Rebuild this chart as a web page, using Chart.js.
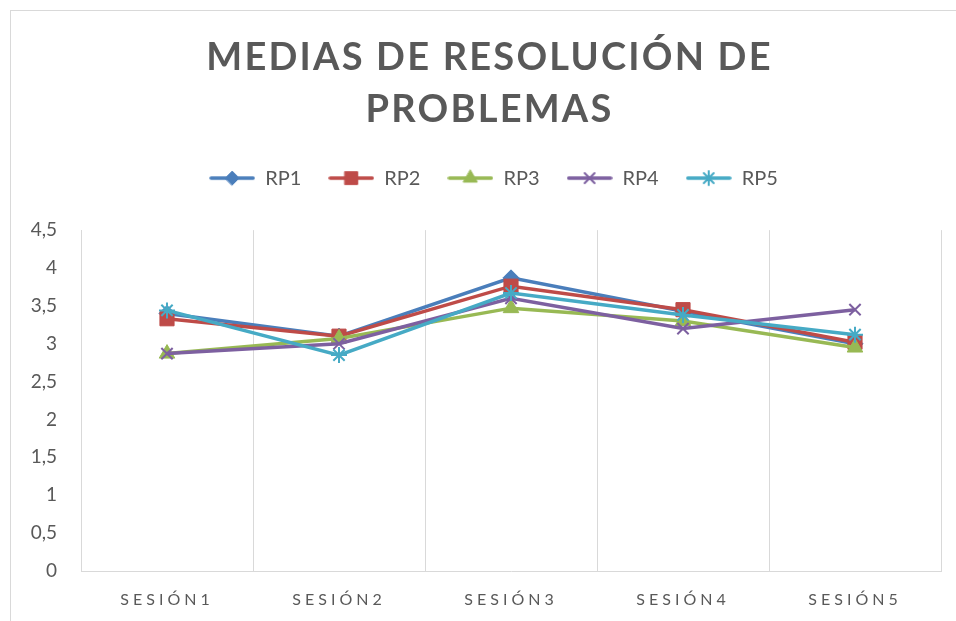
<!DOCTYPE html>
<html><head><meta charset="utf-8">
<script src="https://cdn.jsdelivr.net/npm/chart.js@4"></script>
<style>
html,body{margin:0;padding:0;background:#fff;overflow:hidden;}
#frame{position:absolute;left:10px;top:10px;width:1000px;height:700px;border:1px solid #d9d9d9;}
#wrap{position:absolute;left:0;top:0;width:956px;height:621px;}
</style></head><body>
<div id="frame"></div>
<div id="wrap"><canvas id="c" width="956" height="621"></canvas></div>
<script>
const categories = ['SESIÓN1','SESIÓN2','SESIÓN3','SESIÓN4','SESIÓN5'];
const seriesNames = ['RP1','RP2','RP3','RP4','RP5'];
const rp1 = [3.40, 3.10, 3.87, 3.43, 3.00];
const rp2 = [3.33, 3.10, 3.76, 3.45, 3.02];
const rp3 = [2.87, 3.07, 3.47, 3.30, 2.95];
const rp4 = [2.87, 3.00, 3.60, 3.20, 3.45];
const rp5 = [3.44, 2.85, 3.67, 3.38, 3.12];
const yMin = 0, yMax = 4.5, yStep = 0.5;
const titleLines = ['MEDIAS DE RESOLUCIÓN DE', 'PROBLEMAS'];

const colors = ['#4A7EBB', '#BE4B48', '#98B954', '#7D60A0', '#46AAC5'];
const styles = ['rectRot', 'rect', 'triangle', 'crossRot', 'star'];
const radii = [8, 10, 9, 8, 8];
const markerBorder = [1, 1, 1, 2, 2];
const values = [rp1, rp2, rp3, rp4, rp5];
const textColor = '#595959';

function legendImage(i) {
  const cv = document.createElement('canvas');
  cv.width = 46; cv.height = 20;
  const ctx = cv.getContext('2d');
  ctx.strokeStyle = colors[i];
  ctx.lineWidth = 3.5;
  ctx.lineCap = 'round';
  ctx.beginPath(); ctx.moveTo(2, 10); ctx.lineTo(44, 10); ctx.stroke();
  ctx.fillStyle = colors[i];
  ctx.lineWidth = markerBorder[i];
  Chart.helpers.drawPoint(ctx, {pointStyle: styles[i], radius: radii[i] - 1, borderWidth: markerBorder[i], rotation: 0}, 23, 10);
  return cv;
}

const datasets = seriesNames.map((n, i) => ({
  label: n,
  data: values[i],
  borderColor: colors[i],
  backgroundColor: colors[i],
  borderWidth: 3.5,
  pointStyle: styles[i],
  pointRadius: radii[i],
  pointHoverRadius: radii[i],
  pointBorderWidth: markerBorder[i],
  pointBackgroundColor: colors[i],
  pointBorderColor: colors[i],
  tension: 0,
  order: seriesNames.length - i
}));

const spacingPlugin = {
  id: 'spacing',
  afterInit(chart) {
    const lg = chart.legend;
    if (lg && !lg._wfit) {
      const of = lg.fit.bind(lg);
      lg.fit = function () { of(); this.height += 32; };
      lg._wfit = true;
    }
  },
  afterLayout(chart) {
    const wrap = (obj, fn, sp, dx) => {
      if (!obj || obj['_w' + fn]) return;
      const orig = obj[fn].bind(obj);
      obj[fn] = function (...a) {
        const ctx = chart.ctx; ctx.save(); ctx.letterSpacing = sp; ctx.translate(dx, 0); orig(...a); ctx.restore();
      };
      obj['_w' + fn] = true;
    };
    wrap(chart.titleBlock, 'draw', '2.2px', 19);
    wrap(chart.legend, 'draw', '0px', 23);
    wrap(chart.scales.x, 'drawLabels', '4px', 0);
  }
};

new Chart(document.getElementById('c'), {
  type: 'line',
  data: { labels: categories, datasets },
  plugins: [spacingPlugin],
  options: {
    responsive: false,
    animation: false,
    layout: { padding: { left: 0, right: 15, top: 0, bottom: 0 } },
    plugins: {
      tooltip: { enabled: false },
      title: {
        display: true,
        text: titleLines,
        color: textColor,
        font: { family: 'Lato', weight: 'bold', size: 38, lineHeight: 1.37 },
        padding: { top: 32, bottom: 5 }
      },
      legend: {
        display: true,
        position: 'top',
        labels: {
          color: textColor,
          font: { family: 'Lato', size: 20 },
          usePointStyle: true,
          pointStyleWidth: 46,
          padding: 27,
          generateLabels(chart) {
            return chart.data.datasets.map((d, i) => ({
              text: d.label,
              fillStyle: colors[i],
              strokeStyle: colors[i],
              fontColor: textColor,
              lineWidth: 0,
              pointStyle: legendImage(i),
              hidden: false,
              datasetIndex: i
            }));
          }
        }
      }
    },
    scales: {
      x: {
        offset: true,
        grid: { display: true, offset: true, color: '#d9d9d9', lineWidth: 1, drawTicks: false },
        border: { display: true, color: '#d9d9d9', width: 1 },
        ticks: { color: textColor, font: { family: 'Lato', size: 16 }, padding: 19, maxRotation: 0 },
        afterFit(s) { s.height = 50; }
      },
      y: {
        min: yMin, max: yMax,
        grid: { display: false, drawTicks: false },
        border: { display: true, color: '#d9d9d9', width: 1 },
        ticks: {
          stepSize: yStep,
          color: textColor,
          font: { family: 'Lato', size: 19 },
          padding: 24,
          callback: v => String(v).replace('.', ',')
        },
        afterFit(s) { s.width = 81; }
      }
    }
  }
});
</script>
</body></html>
